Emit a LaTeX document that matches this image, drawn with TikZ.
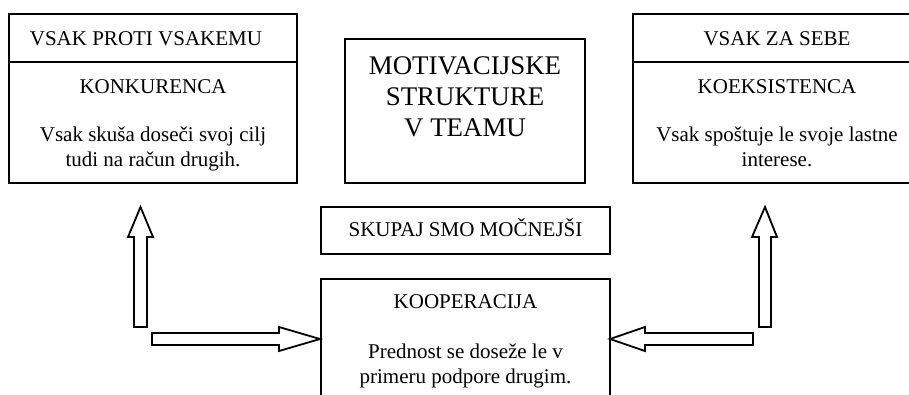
\documentclass[tikz,border=0pt]{standalone}
\usepackage{fontspec}
\setmainfont{Liberation Serif}
\begin{document}
\begin{tikzpicture}[x=1pt,y=-1pt,
  boxline/.style={draw=black,line width=2pt},
  blk/.style={draw=black,line width=1.8pt,fill=white,line join=miter},
  txt/.style={anchor=base,inner sep=0pt,font=\fontsize{21}{25}\selectfont},
  big/.style={anchor=base,inner sep=0pt,font=\fontsize{26.9}{31}\selectfont}]
\useasboundingbox (0,0) rectangle (909,394);
\clip (0,0) rectangle (909,394);
% left box
\draw[boxline] (9,14) rectangle (297,183);
\draw[boxline] (9,62) -- (297,62);
\node[txt] (lt) at (146,45) {VSAK PROTI VSAKEMU};
\node[txt] (lk) at (153,93) {KONKURENCA};
\node[txt] (l1) at (153,141) {Vsak skuša doseči svoj cilj};
\node[txt] (l2) at (153,166) {tudi na račun drugih.};
% centre box
\draw[boxline] (345,39) rectangle (585,183);
\node[big] (c1) at (465,74) {MOTIVACIJSKE};
\node[big] (c2) at (465,105) {STRUKTURE};
\node[big] (c3) at (465,136) {V TEAMU};
% right box
\draw[boxline] (633,14) rectangle (920,183);
\draw[boxline] (633,62) -- (920,62);
\node[txt] (rt) at (777,45) {VSAK ZA SEBE};
\node[txt] (rk) at (777,93) {KOEKSISTENCA};
\node[txt] (r1) at (777,141) {Vsak spoštuje le svoje lastne};
\node[txt] (r2) at (777,166) {interese.};
% skupaj
\draw[boxline] (321,207) rectangle (610,254);
\node[txt] (sk) at (465.5,236) {SKUPAJ SMO MOČNEJŠI};
% kooperacija
\draw[boxline] (321,400) -- (321,279) -- (610,279) -- (610,400);
\node[txt] (kt) at (465.5,308) {KOOPERACIJA};
\node[txt] (k1) at (465.5,358) {Prednost se doseže le v};
\node[txt] (k2) at (465.5,383) {primeru podpore drugim.};
% block arrows
\draw[blk] (134,327) -- (134,237) -- (128,237) -- (140.5,207) -- (153,237) -- (147,237) -- (147,327) -- cycle;
\draw[blk] (759,327) -- (759,237) -- (752,237) -- (765,207) -- (777,237) -- (771,237) -- (771,327) -- cycle;
\draw[blk] (152,333) -- (279,333) -- (279,327) -- (320,339) -- (279,351) -- (279,345) -- (152,345) -- cycle;
\draw[blk] (753,333) -- (645,333) -- (645,327) -- (610,339) -- (645,351) -- (645,345) -- (753,345) -- cycle;
\end{tikzpicture}
\end{document}
